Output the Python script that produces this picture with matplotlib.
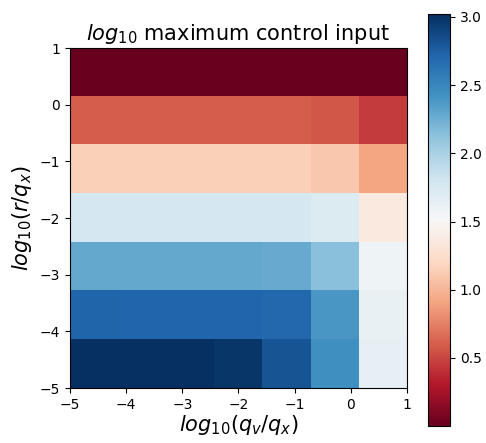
import matplotlib.pyplot as plt
import numpy as np

# log10 of max control input, rows from top (high r) to bottom (low r),
# columns from low qv/qx to high qv/qx
row1 = [0.00, 0.00, 0.00, 0.00, 0.00, 0.00, 0.00]
row2 = [0.60, 0.60, 0.60, 0.60, 0.60, 0.57, 0.45]
row3 = [1.15, 1.15, 1.15, 1.15, 1.15, 1.10, 0.92]
row4 = [1.78, 1.78, 1.78, 1.78, 1.78, 1.72, 1.36]
row5 = [2.28, 2.28, 2.28, 2.28, 2.27, 2.14, 1.57]
row6 = [2.72, 2.71, 2.71, 2.71, 2.69, 2.39, 1.62]
row7 = [3.02, 3.02, 3.02, 2.98, 2.81, 2.44, 1.63]

values = np.array([row1, row2, row3, row4, row5, row6, row7])

fig = plt.figure(figsize=(4.86, 4.43), dpi=100)
ax = fig.add_axes([0.144, 0.124, 0.693, 0.7675])
cax = fig.add_axes([0.881, 0.038, 0.045, 0.930])

im = ax.imshow(values, cmap="RdBu", extent=[-5, 1, -5, 1], origin="upper",
               vmin=0.0, vmax=3.02, aspect="auto")

ax.set_xticks(np.arange(-5, 2))
ax.set_yticks(np.arange(-5, 2))
ax.tick_params(labelsize=10)
ax.set_title("$log_{10}$ maximum control input", fontsize=15)
ax.set_xlabel("$log_{10}(q_v/q_x)$", fontsize=15, labelpad=1)
ax.set_ylabel("$log_{10}(r/q_x)$", fontsize=15, labelpad=4)

cb = fig.colorbar(im, cax=cax)
cb.set_ticks([0.5, 1.0, 1.5, 2.0, 2.5, 3.0])
cb.ax.tick_params(labelsize=10)

fig.savefig("out.png", dpi=100)
